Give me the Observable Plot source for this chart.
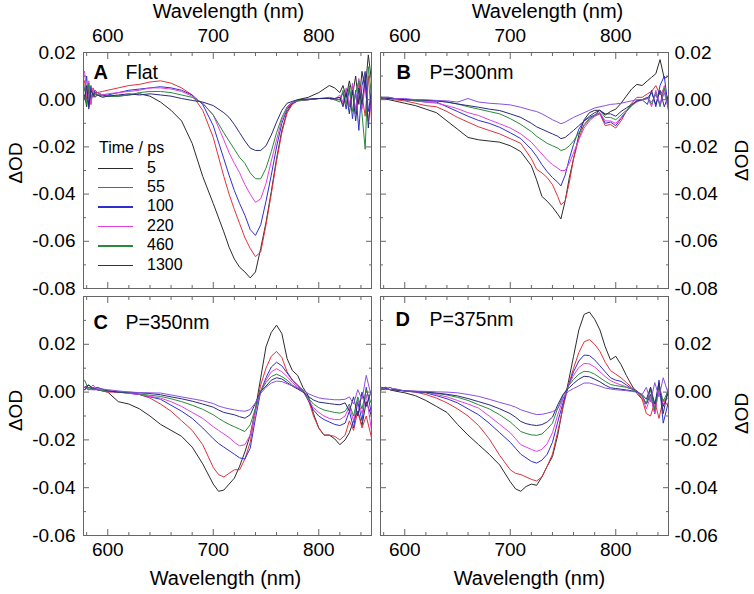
<!DOCTYPE html>
<html><head><meta charset="utf-8">
<script src="https://cdn.jsdelivr.net/npm/d3@7"></script>
<script src="https://cdn.jsdelivr.net/npm/@observablehq/plot@0.6"></script>
<style>
body{margin:0;background:#fff;}
#fig{position:relative;width:754px;height:594px;font-family:"Liberation Sans",Arial,Helvetica,sans-serif;background:#fff;overflow:hidden;}
#fig svg{position:absolute;left:0;top:0;}
.leg{position:absolute;font-size:16px;line-height:18px;color:#000;white-space:nowrap;}
.sw{display:inline-block;width:35px;height:1.4px;vertical-align:middle;margin-right:14px;}
</style></head><body><div id="fig"></div><script>
// ---- data (ΔOD in mOD) ----
const timeLabels = ["5","55","100","220","460","1300"];
const colors = ["#2b2b2b","#e0313b","#2f2fd0","#e040e0","#2a8a3a","#2a2a80","#8a4fe0"];

// Panel A (Flat)
const wlA = [578,580,582,584,586,588,590,595,600,610,620,630,640,650,660,670,680,690,700,710,715,720,725,730,735,740,745,750,755,760,765,770,775,780,790,800,810,815,820,823,826,829,832,835,838,841,844,847,850];
const A_5 = [2,-3,5,0,3,1,2, 2,1.5, 1.5,2,2.5,1.5,-1,-4.5,-9,-18.5,-32.5,-44, -56,-62.5,-67.5,-71,-73,-75.5,-73,-63,-52,-39,-25,-13,-5,-1.5,0, 1,3,6,5, 3,6,1,8,2,10,-2,12,4,19,8];
const A_55 = [8,0,6,-2,5,3,3, 3.5,4, 5,6,6.5,7.5,8,7,5,2,-4.5,-16, -32.5,-40,-46.5,-52.5,-58.5,-63,-66.5,-64.5,-53,-40,-26,-14,-5.6,-2,-0.5, 0,0.5,1,0.5, 1,-2,4,-3,6,-5,8,2,-7,10,-8];
const A_100 = [4,10,-4,6,1,4,3, 2,2, 3,4,4.5,5,5.5,5,4,2,-2,-11, -25,-32,-38.5,-44,-49,-55,-57.5,-53,-43,-32,-20,-10,-4,-1.5,-0.5, 0,0.5,0.5,0, 0,3,-4,5,-8,4,-13,6,12,-5,3];
const A_220 = [12,2,8,-2,4,2,3, 2,2.5, 3,3.5,4,5,5,4.5,3.5,1.5,-1.5,-6.5, -17,-22.5,-27,-31,-36,-40,-43.5,-42,-35.5,-26,-17,-8.5,-3.5,-1.2,-0.5, 0,0.5,0.5,0, 2,-1,5,-3,7,-6,9,-4,6,-9,0];
const A_460 = [5,-2,7,1,3,2,2, 1.5,1.5, 1.5,2,3,3.5,3.5,3,2,1,-1.5,-6.5, -14,-17.5,-21,-24.5,-27,-31,-33.5,-33.5,-29,-22,-14,-7.5,-3,-1,-0.3, 0,0.5,0.5,0, -1,4,-2,6,-5,3,8,-6,-21,14,2];
const A_1300 = [0,6,-3,4,2,3,2, 1,1.5, 2,2.5,2,2.5,2,1.5,0.5,-0.3,-1,-2.5, -5.5,-7.5,-10.5,-14,-17.5,-20.5,-21.5,-21.5,-19.5,-15,-9.5,-4.5,-1.5,-0.7,0, 0.3,0.5,0.5,0.5, 1,-3,3,-6,4,-9,5,-2,10,-12,6];

// Panel B (P=300nm)
const wlB = [578,585,590,600,610,620,630,640,650,660,670,680,690,700,710,720,725,730,735,740,745,748,752,756,760,765,770,775,780,785,790,795,800,805,810,815,820,825,830,834,838,842,846,850];
const B_5 = [0.5,0,-0.5, -1.5,-2.5,-4,-5.5,-9,-12.5,-16,-17,-17.5,-18,-19.5, -22,-28, -34,-41,-43,-45.5,-48.5, -50.5,-43,-33,-25, -15,-8.5,-5.5,-4.5,-4.5,-6.5,-5,-4,-1.5,1.5,4.5,6.5,6,8, 9.5,11,17,9,10];
const B_55 = [1,0.5,0, -0.5,-1.5,-2.5,-3,-5,-7.5,-9.5,-11.5,-13,-14.5,-16.5, -18.5,-25, -29.5,-31,-33,-36,-41, -44.5,-43,-35,-25, -16.5,-10.5,-8,-7,-6,-11,-10.5,-12,-9,-5,-1.5,1,1,2.5, 3.5,6,2,5,-2];
const B_100 = [1,0.5,0.5, 0,-0.5,-1,-1,-3,-5,-7,-8.8,-10,-11.7,-14, -16.5,-21, -24,-27.5,-30.5,-33,-35, -36.5,-32,-25,-19, -12.5,-9,-7.5,-6.5,-5.5,-10,-9.5,-11,-8,-5,-2.5,-0.5,0,-2, 4,-3,6,10,-4];
const B_220 = [1,1,0.5, 0,-0.5,-1,-1.5,-2.5,-3.8,-5.5,-6.7,-8.5,-10.2,-12, -14.5,-18, -20.5,-23,-25.5,-27.5,-29, -30,-30,-27,-22.5, -17,-12,-9,-7,-5.5,-9,-9,-10,-7.5,-5,-2.5,-1,0,1, -3,4,-2,6,-5];
const B_460 = [1,1,0.5, 0,-0.3,-0.5,-0.5,-1,-1.8,-3,-4,-5,-6,-8, -10.5,-13.5, -15.5,-17,-18.5,-19.5,-20.5, -21.5,-21,-19.5,-17.5, -14,-11,-8.5,-6.5,-4.5,-7.5,-7.5,-8.5,-6.5,-4.5,-2.5,-0.5,0,1, -2,3,-3,5,-3];
const B_1300 = [1,0.5,0.5, 0,0,-0.3,-0.5,-1,-1.8,-2.5,-3.2,-4,-4.6,-6, -7.5,-10, -11.5,-12.5,-13.5,-14.5,-15.5, -16.5,-16,-14.5,-13, -11,-9,-7,-5.5,-4.5,-6,-6,-7,-5,-3.5,-2,-0.5,0,0.5, 3,-2,4,-3,2];
const B_late = [1,1,0.5, 0.5,0,0,-0.3,-0.5,-1,0.5,-1,-1.5,-1.8,-2.2, -3.2,-4.5, -5,-6,-7.2,-8.5,-9.5, -10.2,-9.5,-8.5,-7.5, -6.5,-5.5,-4.5,-3.5,-3,-2.5,-2,-1.8,-1.5,-1,-0.5,0,0,0.5, -1,2,-2,3,-4];

// Panels C (P=350nm) and D (P=375nm)
const wlCD = [578,582,586,590,600,610,620,630,640,650,660,670,680,690,700,705,710,715,720,725,730,735,740,745,750,755,760,765,770,775,780,785,790,795,800,805,810,815,820,825,829,833,837,841,845,850];
const C_5 = [2,3,1.5,1, 0,-4,-5,-7,-10,-13.5,-16,-18.5,-23,-30,-38.5, -41.5,-41,-38.5,-36,-31,-25,-18,-7,6,19,25,28,24.5,14,9,7,2,-1.5,-9,-15,-18,-18,-19.5,-22,-20, -17,-12,-8,-14,-4,-10];
const C_55 = [2,1,2,1, 0,0,-0.3,-1,-2.5,-5,-8,-12,-16,-22,-31.5, -34.5,-35.5,-34,-32.5,-32.5,-28,-21,-8,3,10,15,17,14.5,8.5,5,2.5,1,-3,-10,-15,-18,-18,-18.5,-20,-18, -12,-16,-8,-15,-10,-19];
const C_100 = [1,2,1,1, 0.5,0,-0.5,-1,-2,-3,-5.5,-8,-11,-15,-19.5, -21.5,-23,-24.5,-26,-27.5,-28,-23.5,-11,0.3,6,10.5,12.5,11,8,5,3,0.5,-3.5,-7.5,-10,-11.5,-12.5,-13.5,-14,-13, -8,-15,-4,-12,2,-9];
const C_220 = [2,1,3,1, 0.5,0,-0.5,-1,-1.8,-2.5,-4,-6,-8.5,-11,-14.5, -16,-17.5,-19,-21,-22.5,-22,-18,-8,0.3,5,8.5,9.8,8.5,6.5,4,2,0.5,-3,-6.5,-8.5,-10,-11,-11.5,-11.5,-10, -6,-12,-3,-9,-1,-16];
const C_460 = [5,1,2,1, 0.5,0,-0.3,-0.8,-1.3,-1.8,-2.8,-4,-5.5,-7.2,-9.5, -11,-12.3,-13.5,-14.5,-15.5,-16.5,-13.7,-6.7,0.3,4,6.5,7.5,6.5,5,3,1.5,0.5,-2.5,-5,-6.5,-7.5,-8,-8.5,-8.8,-8, -5,-10,-2,-7,1,-5];
const C_1300 = [1,3,1,2, 0.5,0,0,-0.3,-0.6,-1.1,-2,-2.8,-3.8,-5,-6.3, -7.5,-8.5,-9,-9.5,-10.3,-10.9,-9.5,-4.6,0.3,2.5,5,6,5.5,4,2.5,1.3,0,-1.8,-3.3,-4.2,-4.5,-4.8,-5.1,-5.3,-4.5, -8,-2,-10,0,-6,1];
const C_late = [2,1,1,1.5, 1,0.5,0,-0.2,-0.3,-0.4,-1.2,-2,-2.8,-3.6,-4.8, -5.8,-6.5,-7,-7.4,-7.8,-8,-7.3,-4.5,-0.5,2,3.8,4.6,4.4,3.5,2.6,1.8,0.9,-0.6,-1.6,-2.4,-2.8,-3,-3.2,-3.2,-3, -2,-5,1,-3,7,-2];
const D_5 = [2,1.5,1,0.5, -0.3,-1.5,-3.5,-6,-8.5,-13.5,-18,-22,-26,-30.5,-37.5, -40.5,-41.5,-39.5,-38.5,-39,-35.5,-31,-27,-18,-6,4,15,26,32.5,33.5,30.5,26,19,13.5,15,11.5,7,3,-0.5,-3, -5,-1,-9,3,-6,0];
const D_55 = [1.5,2,1,1, 0.5,0,-1,-2.5,-4.5,-7,-10,-14,-19.5,-26.5,-32.5, -34,-34.5,-35.5,-36.5,-37.2,-35.5,-31,-26,-16.5,-6.5,2.5,10,16.5,21,22,20,17,12.5,9,7.5,6,4,2,0.5,-3, -9,-10,-4,-11,-3,-6];
const D_100 = [1,2,1,1, 0.5,0,-0.3,-1.5,-2.8,-4.5,-7,-9.5,-13,-17,-21, -23.5,-26,-27.5,-29,-29.7,-28.5,-26,-21,-12.5,-4.5,2.5,8.5,13,15.5,15.3,13.5,11,8.5,6,5,4.5,3,1.5,0.5,-1.5, -5,2,-8,5,-13,-4];
const D_220 = [1,1.5,2,1, 0.5,0.2,0,-1,-2,-3.5,-5,-6.7,-10,-13.5,-17, -19.5,-22,-23,-24,-24.8,-24,-21.5,-17,-9.5,-3,2.5,7,10.3,12,11.8,10.5,8.5,6.5,4.8,3.8,3,2.2,1.3,0.2,-2, -7,-2,-9,1,-5,-2];
const D_460 = [1.5,1,2,1, 0.5,0.3,0,-0.5,-1.2,-2.2,-3.5,-5.3,-7,-9.5,-12.5, -14.5,-16.5,-17.3,-17.9,-18.1,-17.5,-15.5,-13,-6.7,-1.5,2.5,5.3,7.5,8.7,8.5,7.5,6,4.5,3.2,2.7,2.4,2,1.3,0.2,-1.5, -5,1,-7,3,-4,1];
const D_1300 = [1,1.5,1,1, 0.5,0.3,0,-0.4,-0.9,-1.6,-2.7,-4,-5.3,-7,-9, -10.5,-12.3,-13.2,-13.7,-14,-13.6,-12.5,-10.5,-5.3,-1,1.5,3.6,5.4,6.6,6.4,5.4,4.3,2.9,1.8,1.5,1.2,0.9,0.6,0.1,-1, -3,2,-5,4,-9,2];
const D_late = [1,2,1,1.5, 0.5,0.4,0.3,0.1,0,-0.3,-1,-1.8,-3,-4.3,-5.5, -6.3,-7.4,-8.1,-8.8,-9.4,-9.3,-8.8,-8.2,-7,-2.5,0.3,1.5,2.6,3.8,3.8,3.2,2.5,1.7,1.3,1,0.8,0.6,0.3,0,-1, 2,-4,4,-2,6,-1];

// tick values
const xMajor = [600,700,800];
const xMinor = [580,620,640,660,680,720,740,760,780,820,840];
const yMajorTop = [0.02,0,-0.02,-0.04,-0.06,-0.08];
const yMinorTop = [0.01,-0.01,-0.03,-0.05,-0.07];
const yMajorBot = [0.04,0.02,0,-0.02,-0.04,-0.06];
const yLabelsBot = [0.02,0,-0.02,-0.04,-0.06];
const yMinorBot = [0.03,0.01,-0.01,-0.03,-0.05];

// ---- layout ----
const W = 754, H = 594;
const FONT = '"Liberation Sans", Arial, Helvetica, sans-serif';
const frameColor = "#666";
const panels = [
  {letter:"A", title:"Flat", wl: wlA, series:[A_5,A_55,A_100,A_220,A_460,A_1300],
   box:{l:83,r:371,t:52,b:288}, yDom:[-0.08,0.02], yMajor:yMajorTop, yMinor:yMinorTop, yLabels:yMajorTop,
   xAxis:"top", yAxis:"left", lDx:10, tDx:42, tDy:20, xlDx:1, ylDy:-7.5},
  {letter:"B", title:"P=300nm", wl: wlB, series:[B_5,B_55,B_100,B_220,B_460,B_1300,B_late],
   box:{l:380,r:668,t:52,b:288}, yDom:[-0.08,0.02], yMajor:yMajorTop, yMinor:yMinorTop, yLabels:yMajorTop,
   xAxis:"top", yAxis:"right", lDx:16, tDx:49, tDy:20.5, xlDx:23, ylDy:-10},
  {letter:"C", title:"P=350nm", wl: wlCD, series:[C_5,C_55,C_100,C_220,C_460,C_1300,C_late],
   box:{l:83,r:371,t:296,b:535}, yDom:[-0.06,0.04], yMajor:yMajorBot, yMinor:yMinorBot, yLabels:yLabelsBot,
   xAxis:"bottom", yAxis:"left", lDx:10, tDx:42, tDy:26.5, xlDx:-2, ylDy:-5.5},
  {letter:"D", title:"P=375nm", wl: wlCD, series:[D_5,D_55,D_100,D_220,D_460,D_1300,D_late],
   box:{l:380,r:668,t:296,b:535}, yDom:[-0.06,0.04], yMajor:yMajorBot, yMinor:yMinorBot, yLabels:yLabelsBot,
   xAxis:"bottom", yAxis:"right", lDx:15, tDx:49, tDy:23, xlDx:5, ylDy:-2.5}
];

function makePanel(p) {
  const marks = [];
  p.series.forEach((arr, k) => {
    const data = arr.map((v, i) => ({wl: p.wl[i], od: v / 1000}));
    marks.push(Plot.line(data, {x: "wl", y: "od", stroke: colors[k], strokeWidth: 1, clip: true}));
  });
  for (const a of ["top", "bottom"]) {
    marks.push(Plot.axisX(xMinor, {anchor: a, tickSize: -3, fill: "none", label: null, stroke: frameColor}));
    marks.push(Plot.axisX(xMajor, {anchor: a, tickSize: -6, fill: "none", label: null, stroke: frameColor}));
  }
  for (const a of ["left", "right"]) {
    marks.push(Plot.axisY(p.yMinor, {anchor: a, tickSize: -3, fill: "none", label: null, stroke: frameColor}));
    marks.push(Plot.axisY(p.yMajor, {anchor: a, tickSize: -6, fill: "none", label: null, stroke: frameColor}));
  }
  marks.push(Plot.axisX(xMajor, {anchor: p.xAxis, tickSize: 0, tickPadding: p.xAxis === "top" ? 10.5 : 7,
    label: null, fontSize: 19, fill: "#000", tickFormat: d => String(d)}));
  marks.push(Plot.axisY(p.yLabels, {anchor: p.yAxis, tickSize: 0, tickPadding: p.yAxis === "left" ? 8 : 6,
    label: null, fontSize: 19, fill: "#000", tickFormat: d => d.toFixed(2)}));
  marks.push(Plot.frame({stroke: frameColor}));
  marks.push(Plot.text([p.letter], {frameAnchor: "top-left", dx: p.lDx, dy: p.tDy, textAnchor: "start",
    lineAnchor: "middle", fontWeight: "bold", fontSize: 20, fill: "#000"}));
  marks.push(Plot.text([p.title], {frameAnchor: "top-left", dx: p.tDx, dy: p.tDy, textAnchor: "start",
    lineAnchor: "middle", fontSize: 19.5, fill: "#000"}));
  marks.push(Plot.text(["Wavelength (nm)"], {frameAnchor: p.xAxis, dx: p.xlDx,
    dy: p.xAxis === "top" ? -34.5 : 49.5, lineAnchor: "bottom", textAnchor: "middle", fontSize: 20, fill: "#000"}));
  marks.push(Plot.text(["ΔOD"], {frameAnchor: p.yAxis, dx: p.yAxis === "left" ? -68 : 73, dy: p.ylDy,
    rotate: -90, lineAnchor: "middle", textAnchor: "middle", fontSize: 19, fill: "#000"}));
  return Plot.plot({
    width: W, height: H,
    marginLeft: p.box.l, marginRight: W - p.box.r, marginTop: p.box.t, marginBottom: H - p.box.b,
    x: {domain: [577, 850], label: null},
    y: {domain: p.yDom, label: null},
    style: {background: "transparent", fontFamily: FONT, fontSize: "19px", color: "#000", overflow: "visible"},
    marks
  });
}

const fig = document.getElementById("fig");
for (const p of panels) fig.appendChild(makePanel(p));

// legend inside panel A
const head = document.createElement("div");
head.className = "leg"; head.style.left = "99px"; head.style.top = "139px";
head.textContent = "Time / ps";
fig.appendChild(head);
timeLabels.forEach((t, i) => {
  const row = document.createElement("div");
  row.className = "leg";
  row.style.left = "98px";
  row.style.top = (167.5 + i * 19.4 - 9) + "px";
  const sw = document.createElement("span");
  sw.className = "sw"; sw.style.backgroundColor = colors[i];
  row.appendChild(sw);
  row.appendChild(document.createTextNode(t));
  fig.appendChild(row);
});
</script></body></html>
